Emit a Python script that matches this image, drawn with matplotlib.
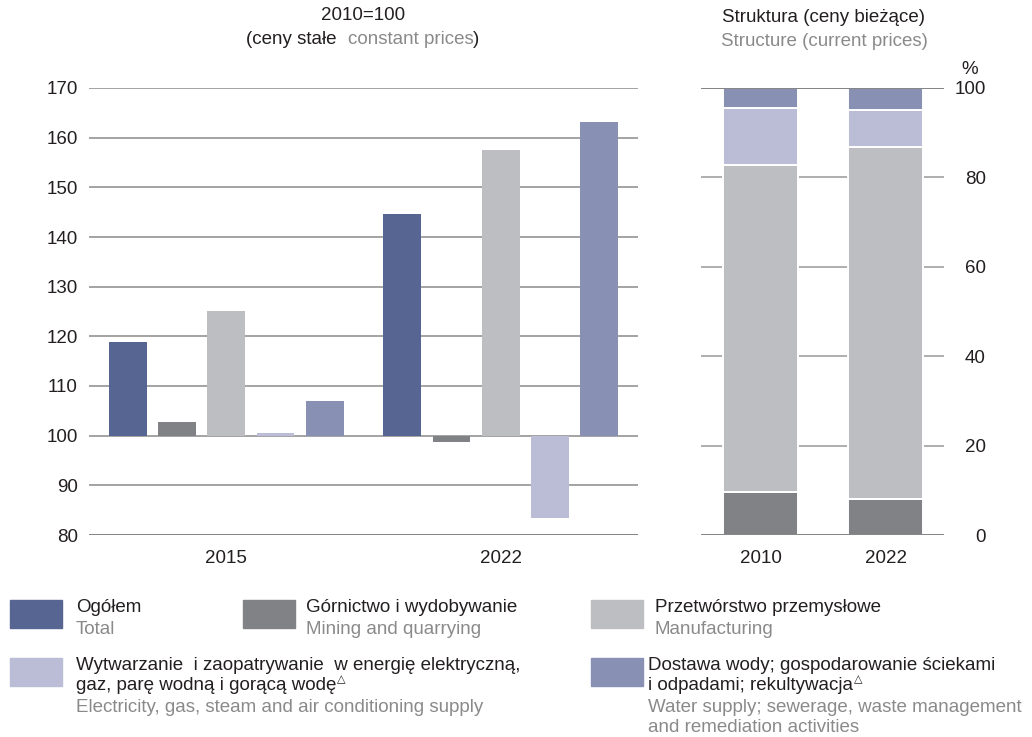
import matplotlib
matplotlib.use("Agg")
import matplotlib.pyplot as plt
from matplotlib.patches import Rectangle
import numpy as np

plt.rcParams['font.family'] = ['Liberation Sans', 'DejaVu Sans']

# ---------------- data ----------------
groups_left = ["2015", "2022"]
series_pl = ["Ogółem", "Górnictwo i wydobywanie", "Przetwórstwo przemysłowe",
             "Wytwarzanie  i zaopatrywanie  w energię elektryczną,\ngaz, parę wodną i gorącą wodę",
             "Dostawa wody; gospodarowanie ściekami\ni odpadami; rekultywacja"]
series_mark = [False, False, False, True, True]
series_en = ["Total", "Mining and quarrying", "Manufacturing",
             "Electricity, gas, steam and air conditioning supply",
             "Water supply; sewerage, waste management\nand remediation activities"]
colors = ["#566592", "#818285", "#BDBEC2", "#BABDD5", "#8890B3"]

index_2015 = [118.9, 102.8, 125.2, 100.5, 106.9]
index_2022 = [144.7, 98.8, 157.5, 83.4, 163.1]
left_ticks = [80, 90, 100, 110, 120, 130, 140, 150, 160, 170]

groups_right = ["2010", "2022"]
# structure order bottom->top: Mining, Manufacturing, Electricity, Water
struct_mining = [9.6, 8.0]
struct_manuf = [73.2, 78.8]
struct_elec = [12.7, 8.3]
struct_water = [4.5, 4.9]
right_ticks = [0, 20, 40, 60, 80, 100]

BLACK = "#231F20"
GRAY = "#8A8A8A"
FS = 13.5

W, H = 1032, 737
fig = plt.figure(figsize=(W / 100, H / 100), dpi=100)

def fx(x):
    return x / W

def fy(y):
    return 1 - y / H

# ---------------- left chart ----------------
axL = fig.add_axes([fx(89), fy(535), fx(638) - fx(89), fy(88) - fy(535)])
axL.set_xlim(-0.5, 1.5)
axL.set_ylim(80, 170)
for t in left_ticks:
    c = "#7a7a7a" if t == 80 else "#9c9c9c"
    axL.axhline(t, color=c, lw=1.3, zorder=1)
bw = 0.138
step = 0.1796
data_left = np.array([index_2015, index_2022])
for i in range(len(series_pl)):
    xs = np.arange(len(groups_left)) + (i - 2) * step
    vals = data_left[:, i]
    axL.bar(xs, vals - 100, bottom=100, width=bw, color=colors[i], zorder=2)
axL.set_yticks(left_ticks)
axL.set_xticks(range(len(groups_left)))
axL.set_xticklabels(groups_left)
for s in axL.spines.values():
    s.set_visible(False)
axL.tick_params(axis='both', length=0, labelsize=FS, colors=BLACK)
axL.tick_params(axis='y', pad=8)
axL.tick_params(axis='x', pad=11)

# ---------------- right chart ----------------
axR = fig.add_axes([fx(701), fy(535), fx(944) - fx(701), fy(88) - fy(535)])
axR.set_xlim(-0.476, 1.468)
axR.set_ylim(0, 100)
for t in right_ticks:
    if t in (0, 100):
        axR.axhline(t, color="#7a7a7a", lw=1.3, zorder=3)
    else:
        axR.axhline(t, color="#a8a8a8", lw=1.3, zorder=1)
xr = np.arange(len(groups_right))
bottom = np.zeros(len(groups_right))
stack = [(struct_mining, colors[1]), (struct_manuf, colors[2]),
         (struct_elec, colors[3]), (struct_water, colors[4])]
for vals, col in stack:
    vals = np.array(vals)
    axR.bar(xr, vals, bottom=bottom, width=0.6, color=col,
            edgecolor="white", linewidth=1.4, zorder=2)
    bottom = bottom + vals
axR.set_yticks(right_ticks)
axR.set_xticks(xr)
axR.set_xticklabels(groups_right)
axR.yaxis.tick_right()
for s in axR.spines.values():
    s.set_visible(False)
axR.tick_params(axis='both', length=0, labelsize=FS, colors=BLACK)
axR.tick_params(axis='x', pad=11)
axR.tick_params(axis='y', pad=30)
for lab in axR.get_yticklabels():
    lab.set_horizontalalignment('right')
fig.text(fx(970), fy(69), "%", ha='center', va='center', fontsize=FS, color=BLACK)

# ---------------- titles ----------------
fig.text(fx(363), fy(16), "2010=100", ha='center', va='center', fontsize=FS, color=BLACK)
fig.text(fx(824), fy(17), "Struktura (ceny bieżące)", ha='center', va='center', fontsize=FS, color=BLACK)
fig.text(fx(824), fy(41), "Structure (current prices)", ha='center', va='center', fontsize=FS, color=GRAY)

pieces = [("(ceny stałe  ", BLACK), ("constant prices", GRAY), (")", BLACK)]
texts = [fig.text(0, fy(40), p, ha='left', va='center', fontsize=FS, color=c) for p, c in pieces]
fig.canvas.draw()
r = fig.canvas.get_renderer()
widths = [t.get_window_extent(r).width for t in texts]
x0 = 363 - sum(widths) / 2
for t, w in zip(texts, widths):
    t.set_x(fx(x0))
    x0 += w

# ---------------- legend ----------------
legend_pos = [
    (10, 600, 76, [607, 629]),
    (243, 600, 306, [607, 629]),
    (591, 600, 655, [607, 629]),
    (10, 658, 76, [665, 686, 707]),
    (591, 658, 648, [665, 686, 707, 728]),
]
for i, (sx, sy, tx, ys) in enumerate(legend_pos):
    fig.patches.append(Rectangle((fx(sx), fy(sy + 28)), fx(52), 28 / H,
                                 transform=fig.transFigure, color=colors[i]))
    pl_lines = series_pl[i].split("\n")
    en_lines = series_en[i].split("\n")
    k = 0
    last = None
    for ln in pl_lines:
        last = fig.text(fx(tx), fy(ys[k]), ln, ha='left', va='center', fontsize=FS, color=BLACK)
        k += 1
    if series_mark[i]:
        bb = last.get_window_extent(r)
        fig.text(bb.x1 / W + 1 / W, fy(ys[k - 1] - 7), "△", ha='left', va='center',
                 fontsize=8, color=BLACK, family=['DejaVu Sans'])
    for ln in en_lines:
        fig.text(fx(tx), fy(ys[k]), ln, ha='left', va='center', fontsize=FS, color=GRAY)
        k += 1

fig.savefig("out.png", dpi=100)
